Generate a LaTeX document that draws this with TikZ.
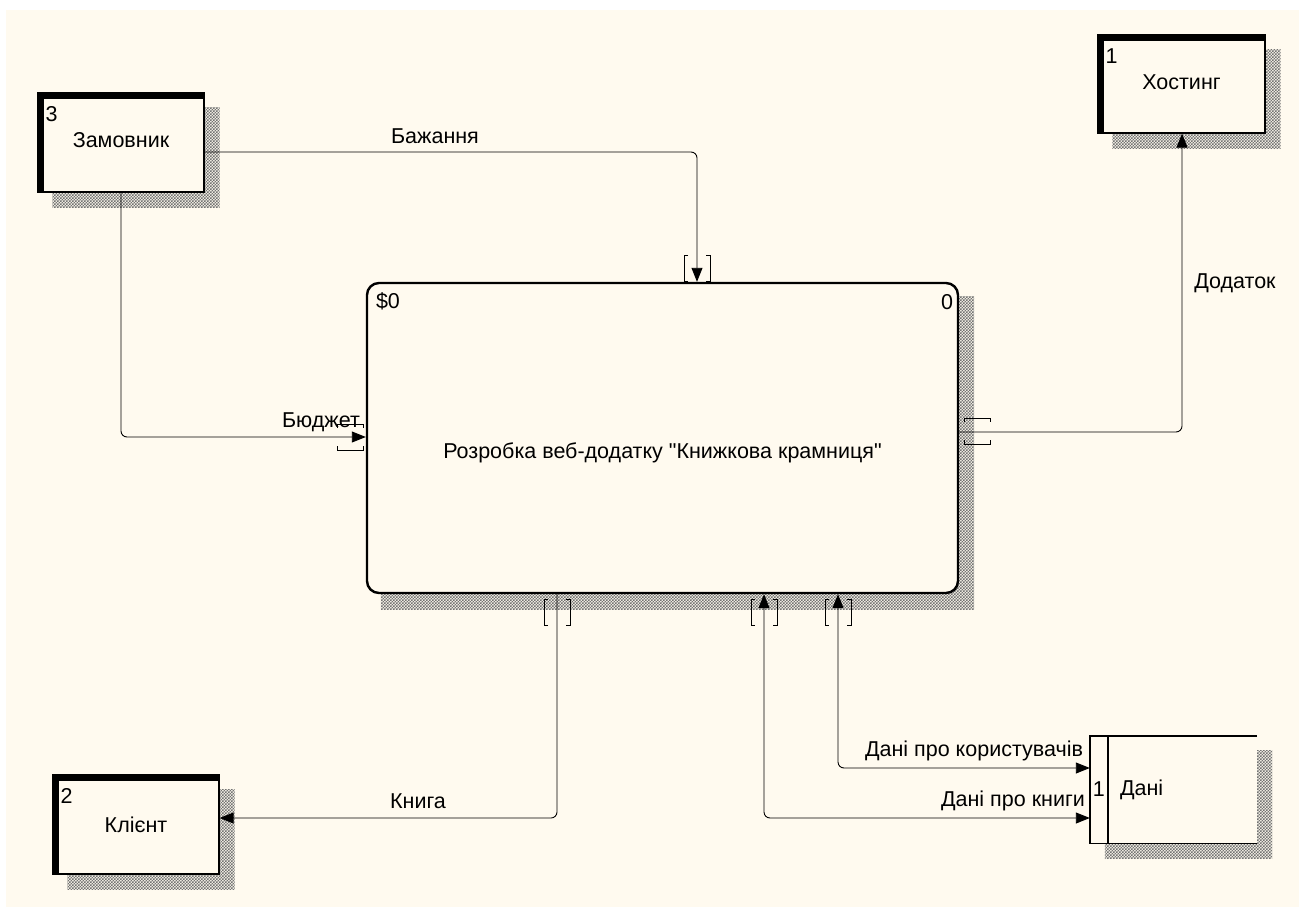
\documentclass[tikz,border=0pt]{standalone}
\usepackage{fontspec}
\setmainfont{Liberation Sans}[Ligatures=TeXOff]
\usetikzlibrary{patterns,arrows.meta,backgrounds}
\definecolor{paper}{HTML}{FFFAEF}

\pgfdeclarepatternformonly{checks}{\pgfpoint{-1pt}{-1pt}}{\pgfpoint{4pt}{4pt}}{\pgfpoint{3pt}{3pt}}{
  \pgfpathrectangle{\pgfpoint{0pt}{0pt}}{\pgfpoint{1.5pt}{1.5pt}}
  \pgfpathrectangle{\pgfpoint{1.5pt}{1.5pt}}{\pgfpoint{1.5pt}{1.5pt}}
  \pgfusepath{fill}
}

\tikzset{
  hatch/.style={pattern=checks, pattern color=black!55},
  entity/.style={draw, line width=1.3pt, fill=paper, minimum width=166pt, minimum height=99pt},
  flow/.style={line width=0.9pt, rounded corners=6pt},
  tunnel/.pic={
    \draw[line width=0.9pt] (-9,-13) -- (-13,-13) -- (-13,13) -- (-9,13)
                            (9,-13) -- (13,-13) -- (13,13) -- (9,13);
  }
}

\begin{document}
\begin{tikzpicture}[x=1pt, y=-1pt, >={Triangle[length=14pt,width=11pt]},
  every node/.style={font=\fontsize{21.5}{25}\selectfont, inner sep=0pt}]
  \useasboundingbox (0,0) rectangle (1303,907);

  % external entities
  \node[entity] (zam) at (121,142.5) {};
  \node[entity, minimum width=167pt, minimum height=98pt] (host) at (1181.5,84) {};
  \node[entity] (klient) at (136,824.5) {};
  \draw[line width=6.5pt] ([xshift=3.5pt]zam.south west) |- ([yshift=-3pt]zam.north east);
  \draw[line width=6.5pt] ([xshift=3.5pt]host.south west) |- ([yshift=-3pt]host.north east);
  \draw[line width=6.5pt] ([xshift=3.5pt]klient.south west) |- ([yshift=-3pt]klient.north east);
  \node[anchor=north west] (zamno) at ([shift={(8,14)}]zam.north west) {3};
  \node (zamlbl) at ([yshift=2pt]zam.center) {Замовник};
  \node[anchor=north west] (hostno) at ([shift={(8,14)}]host.north west) {1};
  \node (hostlbl) at ([yshift=2pt]host.center) {Хостинг};
  \node[anchor=north west] (klientno) at ([shift={(8,14)}]klient.north west) {2};
  \node (klientlbl) at (klient.center) {Клієнт};

  % process
  \node[draw, line width=2.4pt, rounded corners=12pt, fill=paper,
        minimum width=591pt, minimum height=310pt] (proc) at (662.5,438) {};
  \node[anchor=north west] (procid) at ([shift={(10,11)}]proc.north west) {\$0};
  \node[anchor=north east] (procno) at ([shift={(-6,12)}]proc.north east) {0};
  \node (proclbl) at ([yshift=-15pt]proc.center) {Розробка веб-додатку "Книжкова крамниця"};

  % data store
  \node[fill=paper, minimum width=167pt, minimum height=107pt] (dani) at (1173.5,789.5) {};
  \draw[line width=1.4pt] (dani.north east) -- (dani.north west) -- (dani.south west) -- (dani.south east);
  \draw[line width=1.4pt] ([xshift=18pt]dani.north west) -- ([xshift=18pt]dani.south west);
  \node (danino) at ([xshift=9pt]dani.west) {1};
  \node[anchor=west] (danilbl) at ([xshift=30pt]dani.west) {Дані};

  % shadows
  \begin{scope}[on background layer]
    \fill[paper] (6,10) rectangle (1299,907);
    \fill[hatch] ([shift={(15,15)}]zam.north west) rectangle ([shift={(15,15)}]zam.south east);
    \fill[hatch] ([shift={(15,15)}]host.north west) rectangle ([shift={(15,15)}]host.south east);
    \fill[hatch] ([shift={(15,15)}]klient.north west) rectangle ([shift={(15,15)}]klient.south east);
    \fill[hatch] ([shift={(15,15)}]proc.north west) rectangle ([shift={(15,15)}]proc.south east);
    \fill[hatch] ([shift={(15,15)}]dani.north west) rectangle ([shift={(15,15)}]dani.south east);
  \end{scope}

  % flows
  \draw[flow, ->] (zam.east |- 0,152) -| (proc.north -| 697,0);
  \draw[flow, ->] (zam.south -| 121,0) |- (proc.west |- 0,437);
  \draw[flow, ->] (proc.east |- 0,432) -| (host.south -| 1182,0);
  \draw[flow, ->] (proc.south -| 557,0) |- (klient.east |- 0,818);
  \draw[flow, <->] (proc.south -| 764,0) |- (dani.west |- 0,818);
  \draw[flow, <->] (proc.south -| 838,0) |- (dani.west |- 0,768);

  % tunnels
  \pic at (697,268) {tunnel};
  \pic[rotate=90] at (350,437) {tunnel};
  \pic[rotate=90] at (977,431) {tunnel};
  \pic at (557,612) {tunnel};
  \pic at (764,612) {tunnel};
  \pic at (838,612) {tunnel};

  % flow labels
  \node (bazh) at (435,136) {Бажання};
  \node (budg) at (321,422) {Бюджет};
  \node (dodat) at (1235,283) {Додаток};
  \node (kniga) at (418,801) {Книга};
  \node (pkn) at (1013,801) {Дані про книги};
  \node (pkor) at (974,751) {Дані про користувачів};
\end{tikzpicture}
\end{document}
